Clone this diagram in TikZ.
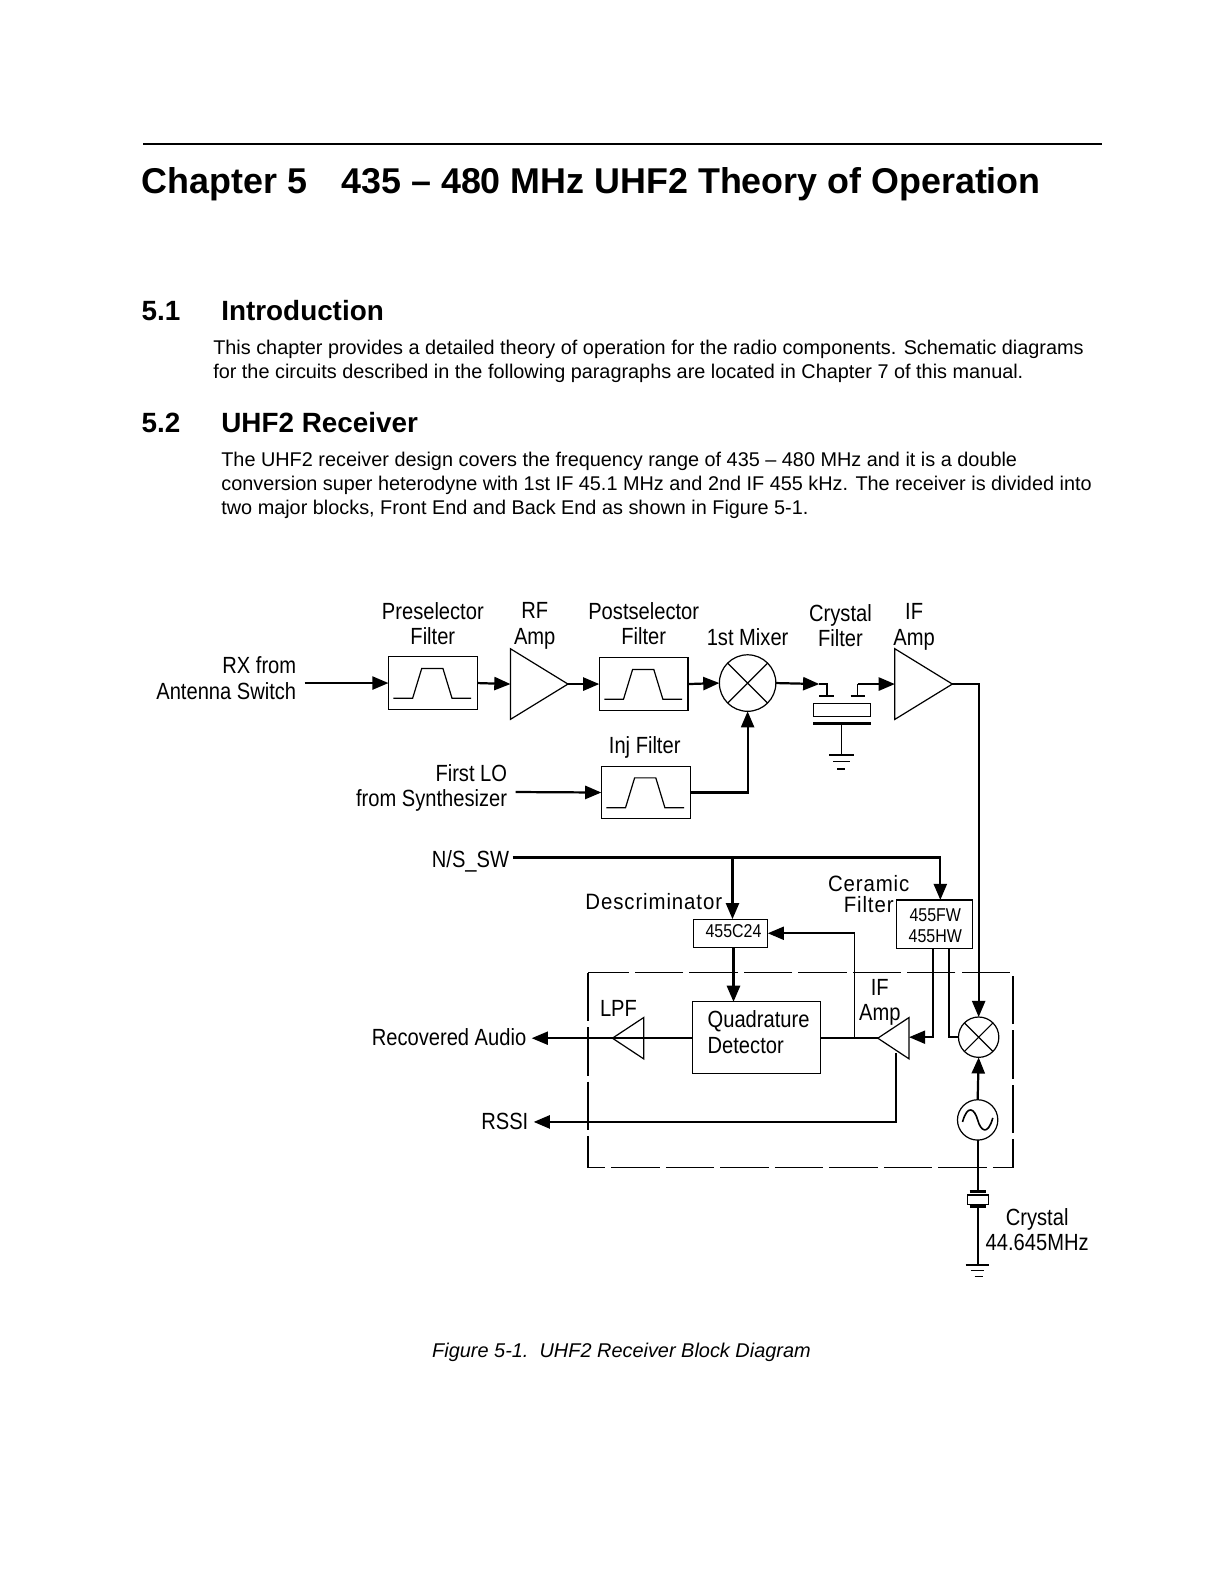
\documentclass[tikz,border=0pt]{standalone}
\usepackage{fontspec}
\setmainfont{Liberation Sans}
\newfontfamily\narrowfont[FakeStretch=0.86]{Liberation Sans}
\newfontfamily\spacedfont[FakeStretch=0.92,LetterSpace=4]{Liberation Sans}
\usetikzlibrary{arrows.meta,positioning,calc,shapes.geometric}

\tikzset{
  lbl/.style={inner sep=0pt, align=center, font=\narrowfont\fontsize{11.6}{12.6}\selectfont},
  lblr/.style={lbl, align=right, anchor=east},
  small/.style={inner sep=0pt, align=center, font=\narrowfont\fontsize{9.2}{10.5}\selectfont},
  body/.style={inner sep=0pt, anchor=west, align=left, font=\fontsize{9.84}{12}\selectfont},
  head/.style={inner sep=0pt, anchor=west, font=\bfseries\fontsize{13.8}{16}\selectfont},
  title/.style={inner sep=0pt, anchor=west, font=\bfseries\fontsize{17.77}{20}\selectfont},
  filt/.style={draw, inner sep=0pt, outer sep=0pt, minimum width=44pt, minimum height=26pt, line width=0.6pt},
  box/.style={draw, inner sep=0pt, outer sep=0pt, line width=0.6pt},
  amp/.style={draw, shape=isosceles triangle, isosceles triangle stretches, inner sep=0pt, outer sep=0pt,
              line width=0.6pt, minimum width=35pt, minimum height=28.5pt},
  amps/.style={amp, minimum width=20.5pt, minimum height=15.5pt},
  mix/.style={draw, circle, inner sep=0pt, outer sep=0pt, line width=0.6pt},
  thinl/.style={line width=0.6pt},
  tip/.style={-{Triangle[length=8pt,width=6.5pt]}},
  wire/.style={line width=1.1pt, tip},
  plain/.style={line width=1.1pt},
}
\newcommand{\passband}[1]{%
  \draw[thinl] ($(#1)+(-39,15)$) -- ++(19,0) -- ++(9,-29.5) -- ++(21,0) -- ++(9,29.5) -- ++(19,0);
}
\newcommand{\crossout}[1]{%
  \draw[thinl] (#1.45) -- (#1.225) (#1.135) -- (#1.315);
}

\begin{document}
\begin{tikzpicture}[x=0.5pt,y=-0.5pt]
  \useasboundingbox (0,0) rectangle (1208,1568);
  \fill[white] (0,0) rectangle (1208,1568);

  % page text
  \coordinate (ruleL) at (142,142.5);
  \coordinate (ruleR) at (1092,142.5);
  \draw[plain] (ruleL) -- (ruleR);
  \node[title] (chapno) at (140,183) {Chapter 5};
  \node[title] (chapname) at (338,183) {435 – 480 MHz UHF2 Theory of Operation};
  \node[head] (secA) at (140,308) {5.1};
  \node[head] (secAname) at (219,308) {Introduction};
  \node[body] (paraA) at (211,358) {This chapter provides a detailed theory of operation for the radio components. Schematic diagrams\\
    for the circuits described in the following paragraphs are located in Chapter 7 of this manual.};
  \node[head] (secB) at (140,419) {5.2};
  \node[head] (secBname) at (219,419) {UHF2 Receiver};
  \node[body] (paraB) at (219,481) {The UHF2 receiver design covers the frequency range of 435 – 480 MHz and it is a double\\
    conversion super heterodyne with 1st IF 45.1 MHz and 2nd IF 455 kHz. The receiver is divided into\\
    two major blocks, Front End and Back End as shown in Figure 5-1.};

  % front end
  \node[filt] (presel) at (429,677) {};
  \node[amp] (rfamp) at (525.5,678) {};
  \node[filt] (postsel) at (638,678) {};
  \node[mix, minimum size=28pt] (mixA) at (741,677) {};
  \node[amp] (ifamp) at (906.5,678) {};
  \node[filt] (injfilt) at (640,785.5) {};
  \passband{presel}
  \passband{postsel}
  \passband{injfilt}
  \crossout{mixA}

  % crystal filter
  \node[box, minimum width=28.5pt, minimum height=6.5pt] (xtal) at (834.5,703.5) {};
  \coordinate (xtalL) at (820,690);
  \coordinate (xtalR) at (850,690);
  \coordinate (platT) at (806,717);
  \coordinate (platB) at (863,717);
  \coordinate (gndA) at (834,748);
  \draw[line width=1.1pt] (platT) -- (platB);
  \draw[line width=1.1pt] (812,690) -- (827,690);
  \draw[line width=0.7pt] (843,690) -- (857,690);
  \draw[thinl] (834,717) -- (gndA);
  \draw[line width=1.1pt] (822,748) -- (846,748);
  \draw[thinl] (826,755) -- (842,755);
  \draw[line width=1.1pt] (830,762) -- (838,762);

  % labels top row
  \node[lbl] (lpre) at (429,618) {Preselector\\Filter};
  \node[lbl] (lrf) at (530,620.5) {RF\\Amp};
  \node[lbl] (lpost) at (638,618) {Postselector\\Filter};
  \node[lbl] (lmix) at (741,631) {1st Mixer};
  \node[lbl] (lxtal) at (833,620) {Crystal\\Filter};
  \node[lbl] (lif) at (906,621.5) {IF\\Amp};
  \node[lbl] (linj) at (639,741) {Inj Filter};
  \node[lblr] (lrx) at (294,672) {RX from\\Antenna Switch};
  \node[lblr] (llo) at (503,781) {First LO\\from Synthesizer};
  \node[lblr] (lns) at (505,854) {N/S\_SW};

  % front end wiring
  \coordinate (rxin) at (302,677);
  \coordinate (loin) at (511,785);
  \draw[wire] (rxin) -- (presel.west);
  \draw[wire] (presel.east) -- (rfamp.west);
  \draw[wire] (rfamp.apex) -- (postsel.west);
  \draw[wire] (postsel.east) -- (mixA.west);
  \draw[wire] (mixA.east) -- (812,678);
  \draw[plain] (812,678) -- (820,678) -- (xtalL);
  \draw[line width=0.7pt] (xtalR) -- (850,678);
  \draw[wire] (850,678) -- (ifamp.west);
  \draw[wire] (loin) -- (injfilt.west);
  \draw[wire] (injfilt.east) -| (mixA.south);

  % back end
  \node[box, minimum width=37pt, minimum height=14pt] (disc) at (724,925) {};
  \node[small] (ldisc) at (727,923) {455C24};
  \node[box, minimum width=37.5pt, minimum height=24pt] (cer) at (926,916) {};
  \node[small] (lcer) at (927,917.5) {455FW\\455HW};
  \node[box, minimum width=63.5pt, minimum height=35.5pt] (quad) at (749.5,1028.5) {};
  \node[lbl, anchor=west, align=left] (lquad) at (701,1023) {Quadrature\\Detector};
  \node[amps, shape border rotate=180] (ifamps) at (890,1029) {};
  \node[amps, shape border rotate=180] (lpf) at (627,1029) {};
  \node[mix, minimum size=20pt] (mixB) at (970,1028) {};
  \crossout{mixB}
  \node[mix, minimum size=20pt] (osc) at (969,1110) {};
  \draw[line width=0.8pt] (954,1112) .. controls (959,1094) and (966,1099) .. (969,1110)
                                    .. controls (972,1121) and (979,1126) .. (984,1108);

  % dashed block
  \draw[line width=0.8pt, dash pattern=on 24pt off 3pt] (583,964) rectangle (1004,1157);

  % labels lower part
  \node[font=\spacedfont\fontsize{11}{12}\selectfont, inner sep=0pt] (ldesc) at (648,894) {Descriminator};
  \node[font=\spacedfont\fontsize{11}{10.5}\selectfont, inner sep=0pt, align=center] (lcera) at (861,886) {Ceramic\\Filter};
  \node[lbl] (lifs) at (872,993.5) {IF\\Amp};
  \node[lbl] (llpf) at (613,1000) {LPF};
  \node[lblr] (laudio) at (522,1028) {Recovered Audio};
  \node[lblr] (lrssi) at (524,1112) {RSSI};
  \node[lbl] (lcry) at (1028,1219) {Crystal\\44.645MHz};
  \node[inner sep=0pt, font=\itshape\fontsize{9.87}{12}\selectfont] (cap) at (616,1340) {Figure 5-1.\ \ UHF2 Receiver Block Diagram};

  % back end wiring
  \coordinate (nsin) at (508,850);
  \coordinate (nsjoin) at (726,850);
  \coordinate (audout) at (527,1029);
  \coordinate (rssiout) at (529,1112);
  \coordinate (rssifrom) at (888,1044);
  \coordinate (ifbranch) at (847,1029);
  \draw[wire] (nsin) -| (cer.north -| 932,0);
  \draw[wire] (nsjoin) -- (726,911);
  \draw[wire] (727,939) -- (727,993);
  \draw[wire] (ifamp.apex) -| (mixB.north);
  \draw[plain] (quad.east |- ifbranch) -- (ifamps.apex);
  \draw[line width=0.9pt, tip] (ifbranch) |- (disc.east |- 0,925);
  \draw[plain] (quad.west |- ifbranch) -- (lpf.west);
  \draw[line width=0.8pt, tip] (lpf.apex) -- (audout);
  \draw[wire] (rssifrom) |- (rssiout);
  \draw[line width=1pt, tip] (925,940) |- (ifamps.east |- 0,1028);
  \draw[line width=1pt] (941,940) |- (mixB.west);
  \draw[wire] (osc.north) -- (mixB.south);

  % crystal to ground
  \coordinate (xbox) at (969.5,1189);
  \node[box, minimum width=10.5pt, minimum height=4.5pt] (xtalB) at (xbox) {};
  \draw[plain] (osc.south) -- (969,1181);
  \draw[line width=1.2pt] (961,1181) -- (977,1181);
  \draw[line width=1.2pt] (961,1196) -- (977,1196);
  \draw[plain] (969,1196) -- (969,1254);
  \draw[line width=1.1pt] (957,1254) -- (980,1254);
  \draw[thinl] (962,1259) -- (975,1259);
  \draw[thinl] (966,1265) -- (974,1265);
\end{tikzpicture}
\end{document}
